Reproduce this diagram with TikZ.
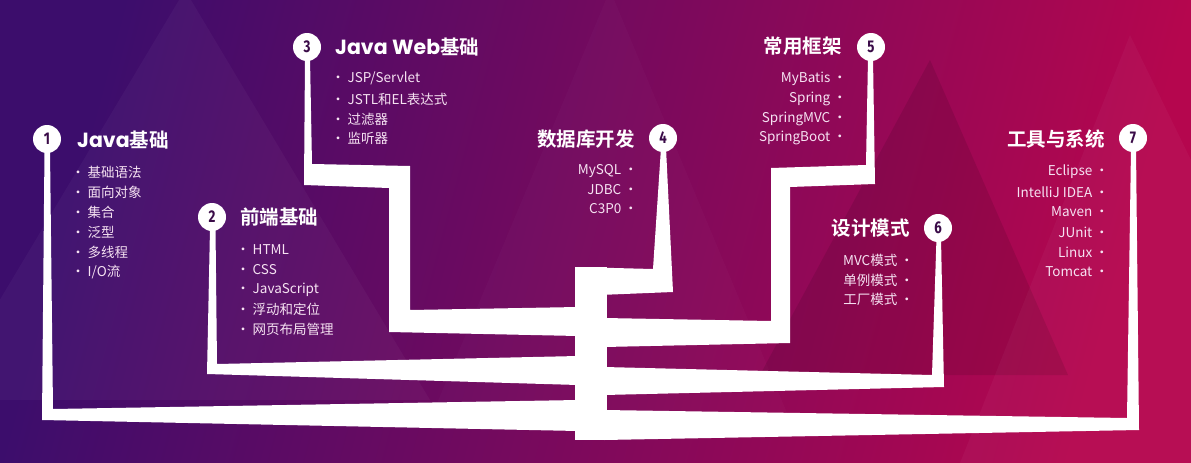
\documentclass[tikz,border=0pt]{standalone}
\usepackage{fontspec}
\setmainfont{Noto Sans CJK SC}
\newfontfamily\titlefont{Noto Sans CJK SC Bold}
\newfontfamily\latfont{Poppins}
\newfontfamily\numfont{Fira Sans}
\newcommand\latw[1]{{\latfont\bfseries\fontsize{20.5}{20}\selectfont #1}}
\newcommand\numtxt[1]{\scalebox{0.78}[1]{#1}}
\definecolor{bgA}{HTML}{3C0D6C}
\definecolor{bgB}{HTML}{B5064E}
\definecolor{itemc}{HTML}{F6E2F2}
\definecolor{numc}{HTML}{3A0B48}
\tikzset{
  branch/.style={fill=white},
  num/.style={circle, fill=white, minimum size=28pt, inner sep=0pt,
    font=\numfont\bfseries\fontsize{17}{17}\selectfont, text=numc},
  ttl/.style={font=\titlefont\fontsize{19.5}{20}\selectfont, text=white, inner sep=0pt},
  iteml/.style={anchor=west, font=\fontsize{13.5}{13.5}\selectfont, text=itemc, inner sep=0pt},
  itemr/.style={anchor=east, font=\fontsize{13.5}{13.5}\selectfont, text=itemc, inner sep=0pt},
}
\newcommand\bl{\makebox[19pt]{·}}
\begin{document}
\begin{tikzpicture}[x=1pt, y=-1pt]
\useasboundingbox (0,0) rectangle (1191,463);
% background
\shade[left color=bgA, right color=bgB, shading angle=75] (0,0) rectangle (1191,463);
\fill[white, opacity=0.035] (185,-10) -- (-60,400) -- (430,400) -- cycle;
\fill[white, opacity=0.02] (610,-10) -- (430,420) -- (790,420) -- cycle;
\fill[black, opacity=0.1] (930,60) -- (760,375) -- (1068,375) -- cycle;
\fill[white, opacity=0.035] (1130,35) -- (960,463) -- (1191,463) -- (1191,160) -- cycle;
% branches
\fill[branch] (44.5,150) -- (42,420) -- (578,431) -- (578,400) -- (53,409) -- (50,150) -- cycle;
\fill[branch] (210,228) -- (207,374) -- (578,385) -- (578,356) -- (217,364) -- (215.5,228) -- cycle;
\fill[branch] (305,58) -- (304,185) -- (389,188) -- (389,332) -- (578,336) -- (578,307) -- (410,310) -- (410,166) -- (312,164) -- (310,58) -- cycle;
\fill[branch] (661,148) -- (653,269) -- (575,267) -- (575,296) -- (673,292) -- (666,148) -- cycle;
\fill[branch] (868,58) -- (866,165) -- (771,168) -- (771,321) -- (604,318) -- (604,347) -- (790,343) -- (790,187) -- (875,184) -- (873,58) -- cycle;
\fill[branch] (936.5,238) -- (932,375) -- (604,367) -- (604,395) -- (944,387) -- (941,238) -- cycle;
\fill[branch] (1131,148) -- (1127,418) -- (604,410) -- (604,440) -- (1139,430) -- (1136,148) -- cycle;
\fill[branch] (575,267) rectangle (607,440);
% circles
\node[num] (c1) at (47,139) {\numtxt{1}};
\node[num] (c2) at (212,217) {\numtxt{2}};
\node[num] (c3) at (307,47) {\numtxt{3}};
\node[num] (c4) at (663,138) {\numtxt{4}};
\node[num] (c5) at (871,47) {\numtxt{5}};
\node[num] (c6) at (938,228) {\numtxt{6}};
\node[num] (c7) at (1133,138) {\numtxt{7}};
% titles
\node[ttl, anchor=west] (t1) at (77,140) {\latw{Java}基础};
\node[ttl, anchor=west] (t2) at (240,217) {前端基础};
\node[ttl, anchor=west] (t3) at (335,47) {\latw{Java Web}基础};
\node[ttl, anchor=east] (t4) at (635,139) {数据库开发};
\node[ttl, anchor=east] (t5) at (842,46) {常用框架};
\node[ttl, anchor=east] (t6) at (910,228) {设计模式};
\node[ttl, anchor=east] (t7) at (1105,139) {工具与系统};
% items 1
\node[iteml] (a1) at (68.5,172) {\bl 基础语法};
\node[iteml] (a2) at (68.5,192) {\bl 面向对象};
\node[iteml] (a3) at (68.5,212) {\bl 集合};
\node[iteml] (a4) at (68.5,232) {\bl 泛型};
\node[iteml] (a5) at (68.5,252) {\bl 多线程};
\node[iteml] (a6) at (68.5,272) {\bl I/O流};
% items 2
\node[iteml] (b1) at (233.5,250) {\bl HTML};
\node[iteml] (b2) at (233.5,270) {\bl CSS};
\node[iteml] (b3) at (233.5,290) {\bl JavaScript};
\node[iteml] (b4) at (233.5,309) {\bl 浮动和定位};
\node[iteml] (b5) at (233.5,329) {\bl 网页布局管理};
% items 3
\node[iteml] (d1) at (328.5,78) {\bl JSP/Servlet};
\node[iteml] (d2) at (328.5,99) {\bl JSTL和EL表达式};
\node[iteml] (d3) at (328.5,119) {\bl 过滤器};
\node[iteml] (d4) at (328.5,138) {\bl 监听器};
% items 4
\node[itemr] (e1) at (640.5,171) {MySQL\bl};
\node[itemr] (e2) at (640.5,190) {JDBC\bl};
\node[itemr] (e3) at (640.5,209) {C3P0\bl};
% items 5
\node[itemr] (f1) at (849.5,79) {MyBatis\bl};
\node[itemr] (f2) at (849.5,99) {Spring\bl};
\node[itemr] (f3) at (849.5,119) {SpringMVC\bl};
\node[itemr] (f4) at (849.5,138) {SpringBoot\bl};
% items 6
\node[itemr] (g1) at (916.5,260) {MVC模式\bl};
\node[itemr] (g2) at (916.5,280) {单例模式\bl};
\node[itemr] (g3) at (916.5,299) {工厂模式\bl};
% items 7
\node[itemr] (h1) at (1111.5,172) {Eclipse\bl};
\node[itemr] (h2) at (1111.5,192) {IntelliJ IDEA\bl};
\node[itemr] (h3) at (1111.5,212) {Maven\bl};
\node[itemr] (h4) at (1111.5,232) {JUnit\bl};
\node[itemr] (h5) at (1111.5,252) {Linux\bl};
\node[itemr] (h6) at (1111.5,272) {Tomcat\bl};
\end{tikzpicture}
\end{document}
